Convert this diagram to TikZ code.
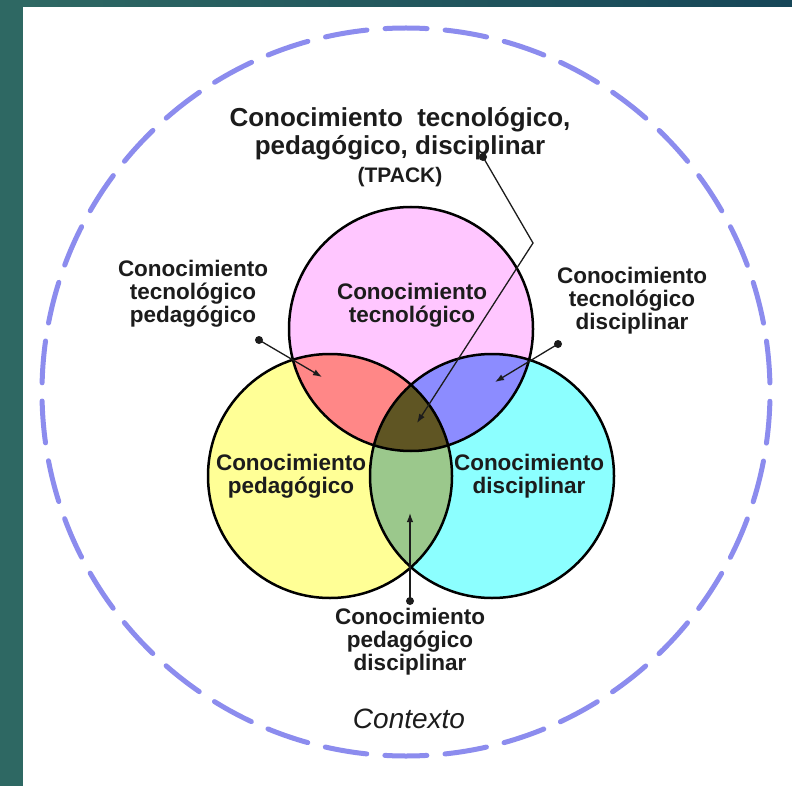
\documentclass[tikz,border=0pt]{standalone}
\usepackage{fontspec}
\setmainfont{Liberation Sans}
\usetikzlibrary{arrows.meta}

\definecolor{frameA}{RGB}{46,104,99}
\definecolor{frameB}{RGB}{22,70,88}
\definecolor{ctx}{RGB}{140,140,238}
\definecolor{ink}{RGB}{28,28,28}
\definecolor{cT}{RGB}{255,198,255}
\definecolor{cP}{RGB}{255,255,150}
\definecolor{cD}{RGB}{140,255,255}
\definecolor{cTP}{RGB}{255,135,135}
\definecolor{cTD}{RGB}{140,140,255}
\definecolor{cPD}{RGB}{155,200,140}
\definecolor{cTPD}{RGB}{95,85,35}

\begin{document}
\begin{tikzpicture}[x=1pt,y=-1pt,
  % multi-line labels are placed by the baseline of their last line
  lbl/.style={font=\bfseries\fontsize{22.5}{23}\selectfont, align=center,
              inner sep=0pt, anchor=base, text=ink},
  ttl/.style={font=\bfseries\fontsize{26}{28}\selectfont, align=center,
              inner sep=0pt, anchor=base, text=ink},
  ring/.style={draw=black, line width=2.5pt},
  lead/.style={draw=ink, line width=1.3pt},
  tip/.style={lead, -{Latex[length=9pt,width=6.5pt]}},
  dot/.style={fill=ink}]

\useasboundingbox (0,0) rectangle (792,786);

% slide frame and white page
\fill[frameA] (0,0) rectangle (792,786);
\shade[left color=frameA, right color=frameB] (23,0) rectangle (792,7);
\fill[white] (23,7) rectangle (792,786);

% context ring
\coordinate (ctxc) at (406,392);
\draw[ctx, line width=5pt, line cap=round,
      dash pattern=on 42pt off 18.19pt, dash phase=51.1pt]
  (ctxc) circle[radius=364pt];

% circle centres
\coordinate (T) at (411,329);
\coordinate (P) at (330,476);
\coordinate (D) at (492,476);

% base fills
\fill[cT] (T) circle[radius=122pt];
\fill[cP] (P) circle[radius=122pt];
\fill[cD] (D) circle[radius=122pt];

% pairwise and triple overlaps
\begin{scope}
  \clip (P) circle[radius=122pt];
  \fill[cPD] (D) circle[radius=122pt];
\end{scope}
\begin{scope}
  \clip (T) circle[radius=122pt];
  \fill[cTP] (P) circle[radius=122pt];
  \fill[cTD] (D) circle[radius=122pt];
  \clip (P) circle[radius=122pt];
  \fill[cTPD] (D) circle[radius=122pt];
\end{scope}

% outlines
\draw[ring] (T) circle[radius=122pt];
\draw[ring] (P) circle[radius=122pt];
\draw[ring] (D) circle[radius=122pt];

% labels
\node[ttl] (tpack) at (400,183)
  {Conocimiento\ \ tecnológico,\\pedagógico, disciplinar\\{\fontsize{21}{28}\selectfont (TPACK)}};
\node[lbl] (ktp) at (193,322) {Conocimiento\\tecnológico\\pedagógico};
\node[lbl] (kt) at (412,322) {Conocimiento\\tecnológico};
\node[lbl] (ktd) at (632,329) {Conocimiento\\tecnológico\\disciplinar};
\node[lbl] (kp) at (291,493) {Conocimiento\\pedagógico};
\node[lbl] (kd) at (529,493) {Conocimiento\\disciplinar};
\node[lbl] (kpd) at (410,670) {Conocimiento\\pedagógico\\disciplinar};
\node[font=\itshape\fontsize{28}{30}\selectfont, text=ink, inner sep=0pt, anchor=base]
  (kctx) at (409,728) {Contexto};

% leader lines
\coordinate (dTPACK) at (483,157);
\coordinate (bTPACK) at (533,243);
\coordinate (aTPACK) at (417,423);
\coordinate (dTP) at (259,340);
\coordinate (aTP) at (322,377);
\coordinate (dTD) at (558,344);
\coordinate (aTD) at (495,382);
\coordinate (dPD) at (410,601);
\coordinate (aPD) at (410,513);

\draw[tip] (dTPACK) -- (bTPACK) -- (aTPACK);
\draw[tip] (dTP) -- (aTP);
\draw[tip] (dTD) -- (aTD);
\draw[tip] (dPD) -- (aPD);
\foreach \d in {dTPACK,dTP,dTD,dPD}
  \fill[dot] (\d) circle[radius=4pt];

\end{tikzpicture}
\end{document}
